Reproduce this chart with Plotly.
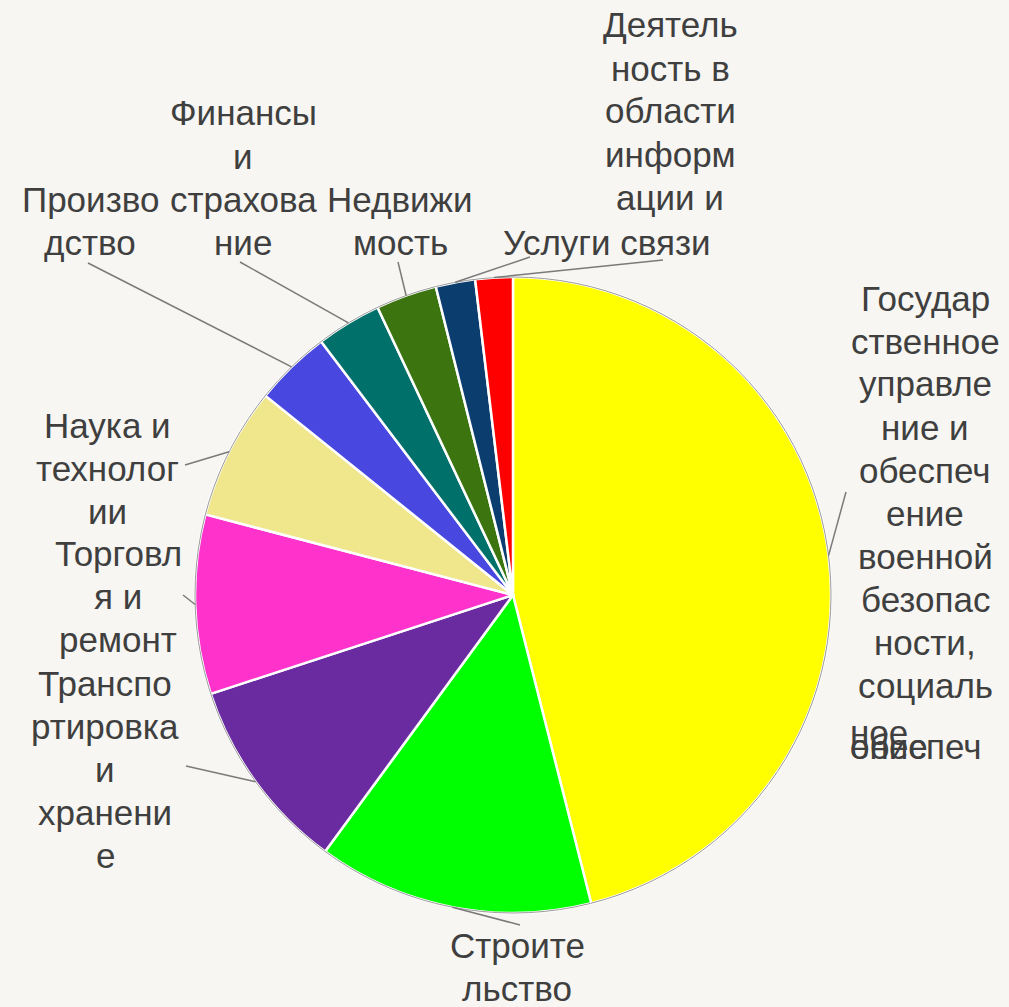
import math
import plotly.graph_objects as go

# ---- data ----
sectors = [
    "Государственное управление и обеспечение военной безопасности, социальное обеспечение",
    "Строительство",
    "Транспортировка и хранение",
    "Торговля и ремонт",
    "Наука и технологии",
    "Производство",
    "Финансы и страхование",
    "Недвижимость",
    "Деятельность в области информации и связи",
    "Услуги связи",
]
shares = [46.0, 14.0, 9.9, 9.1, 6.7, 3.9, 3.3, 3.1, 2.0, 1.9]
colors = ["#FFFF00", "#00FF00", "#6A2BA0", "#FF33CC", "#F0E68C",
          "#4848E0", "#00706A", "#3C7410", "#0B3D6E", "#FF0000"]

# wrapped label lines (as displayed)
label_lines = [
    ["Государ", "ственное", "управле", "ние и", "обеспеч", "ение", "военной",
     "безопас", "ности,", "социаль"],
    ["Строите", "льство"],
    ["Транспо", "ртировка", "и", "хранени", "е"],
    ["Торговл", "я и", "ремонт"],
    ["Наука и", "технолог", "ии"],
    ["Произво", "дство"],
    ["Финансы", "и", "страхова", "ние"],
    ["Недвижи", "мость"],
    ["Деятель", "ность в", "области", "информ", "ации и"],
    ["Услуги связи"],
]
overflow_lines = ["ное", "обеспеч", "ение"]

# ---- layout (page pixels) ----
W, H = 1009, 1007
CX, CY, R = 513, 595, 318
FONT = "Liberation Sans, Arial, sans-serif"
FS = 35
LH = 43
TXT = "#3f3f3f"
BG = "#f7f6f2"
# label block: (center x, center y of first line)
label_pos = [(925, 298), (517, 945), (105, 683), (118, 553), (107, 425),
             (90, 199), (243, 113), (400, 199), (670, 25), (607, 242)]
# overflow text: (left x, center y)
overflow_pos = [(848, 732), (848, 746), (848, 746)]
# leader line end points
leader_end = [(846, 492), (520, 925), (186, 766), (183, 595), (185, 465),
              (88, 263), (240, 262), (398, 262), (530, 257), (663, 260)]


def px(x):
    return x / W


def py(y):
    return 1 - y / H


fig = go.Figure(go.Pie(
    values=shares, labels=sectors, sort=False, direction="clockwise",
    rotation=0, textinfo="none", hoverinfo="label+percent",
    marker=dict(colors=colors, line=dict(color="white", width=2.5)),
    domain=dict(x=[px(CX - R), px(CX + R)], y=[py(CY + R), py(CY - R)]),
    showlegend=False,
))

shapes = []
# thin grey outer rim
shapes.append(dict(type="circle", xref="paper", yref="paper",
                   x0=px(CX - R), x1=px(CX + R), y0=py(CY + R), y1=py(CY - R),
                   line=dict(color="#9a9a9a", width=1), layer="above"))

total = sum(shares)
cum = 0.0
for i, v in enumerate(shares):
    mid = 2 * math.pi * (cum + v / 2) / total
    cum += v
    sx = CX + R * math.sin(mid)
    sy = CY - R * math.cos(mid)
    ex, ey = leader_end[i]
    shapes.append(dict(type="line", xref="paper", yref="paper",
                       x0=px(sx), y0=py(sy), x1=px(ex), y1=py(ey),
                       line=dict(color="#7a7a7a", width=1.5)))

annotations = []
for lines, (lx, ly) in zip(label_lines, label_pos):
    for k, t in enumerate(lines):
        annotations.append(dict(
            text=t, x=px(lx), y=py(ly + k * LH), xref="paper", yref="paper",
            xanchor="center", yanchor="middle", showarrow=False,
            font=dict(family=FONT, size=FS, color=TXT)))

# overflow text of the first label (overlapping in the original)
for t, (ox, oy) in zip(overflow_lines, overflow_pos):
    annotations.append(dict(
        text=t, x=px(ox), y=py(oy), xref="paper", yref="paper",
        xanchor="left", yanchor="middle", showarrow=False,
        font=dict(family=FONT, size=FS, color=TXT)))

fig.update_layout(
    width=W, height=H, margin=dict(l=0, r=0, t=0, b=0),
    paper_bgcolor=BG, plot_bgcolor=BG,
    shapes=shapes, annotations=annotations,
)
fig.write_html(
    "out.html",
    config={"displayModeBar": False},
    post_script="document.body.style.margin='0';"
                "document.body.style.overflow='hidden';"
                "document.body.style.background='" + BG + "';",
)
